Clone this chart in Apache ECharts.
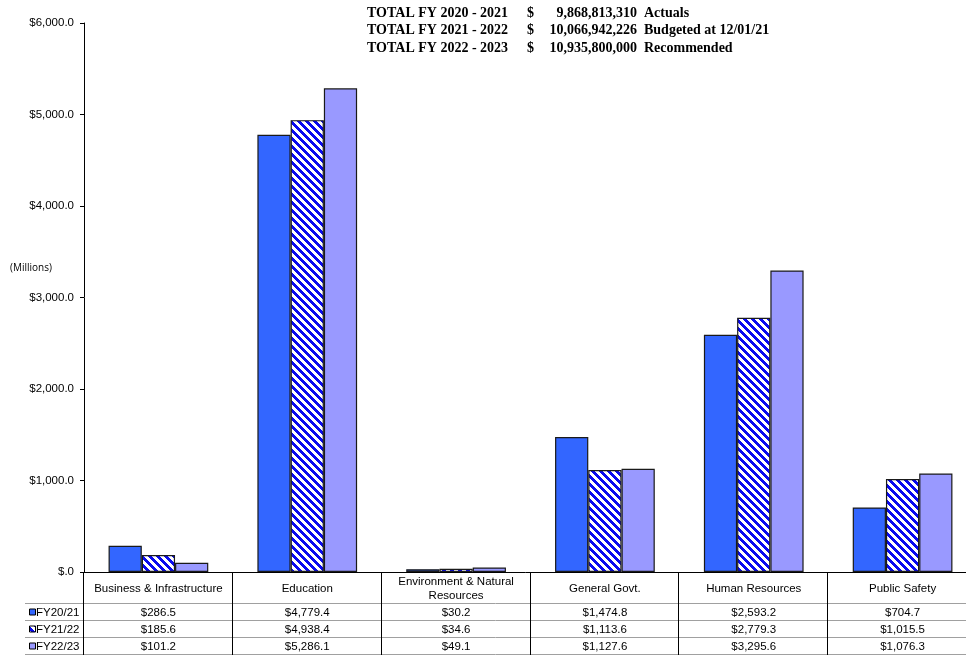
<!DOCTYPE html>
<html>
<head>
<meta charset="utf-8">
<script src="https://cdn.jsdelivr.net/npm/echarts@6/dist/echarts.min.js"></script>
<style>
html,body{margin:0;padding:0;background:#fff;overflow:hidden;}
#chart{width:966px;height:656px;}
</style>
</head>
<body>
<div id="chart"></div>
<script>
// ---- data ----
const categories = ['Business & Infrastructure', 'Education', 'Environment & Natural\nResources', 'General Govt.', 'Human Resources', 'Public Safety'];
const seriesNames = ['FY20/21', 'FY21/22', 'FY22/23'];
const fy2021 = [286.5, 4779.4, 30.2, 1474.8, 2593.2, 704.7];
const fy2122 = [185.6, 4938.4, 34.6, 1113.6, 2779.3, 1015.5];
const fy2223 = [101.2, 5286.1, 49.1, 1127.6, 3295.6, 1076.3];
const yTicks = [0, 1000, 2000, 3000, 4000, 5000, 6000];
const totalLabels = ['TOTAL FY 2020 - 2021', 'TOTAL FY 2021 - 2022', 'TOTAL FY 2022 - 2023'];
const totalValues = ['9,868,813,310', '10,066,942,226', '10,935,800,000'];
const totalNotes = ['Actuals', 'Budgeted at 12/01/21', 'Recommended'];

// ---- layout ----
const W = 966, H = 656;
const gridLeft = 84, gridTop = 23, gridRight = -11, gridBottom = 84;
const plotBottom = H - gridBottom; // 572
const catW = (W - gridLeft - gridRight) / categories.length;
const rowTops = [603, 620, 637, 654];
const legendLeft = 25;

function fmtMoney(v) {
  if (v === 0) return '$.0';
  return '$' + v.toLocaleString('en-US', {minimumFractionDigits: 1, maximumFractionDigits: 1});
}

// stripe pattern
function makeStripe() {
  const c = document.createElement('canvas');
  c.width = 8; c.height = 8;
  const ctx = c.getContext('2d');
  ctx.fillStyle = '#ffffff';
  ctx.fillRect(0, 0, 8, 8);
  ctx.fillStyle = '#0a0af0';
  for (let y = 0; y < 8; y++) {
    for (let x = 0; x < 8; x++) {
      if ((((x - y) % 8) + 8) % 8 < 4) ctx.fillRect(x, y, 1, 1);
    }
  }
  return c;
}
const stripe = makeStripe();
const fills = ['#3366ff', {image: stripe, repeat: 'repeat'}, '#9999ff'];
const seriesData = [fy2021, fy2122, fy2223];

const graphics = [];
const font = '11.5px "Liberation Sans", Arial, sans-serif';
// table lines
rowTops.forEach(function (y) {
  graphics.push({type: 'line', shape: {x1: legendLeft, y1: y + 0.5, x2: W, y2: y + 0.5}, style: {stroke: '#a0a0a0', lineWidth: 1}, z: 10});
});
for (let i = 0; i < categories.length; i++) {
  const x = Math.round(gridLeft + i * catW) - 0.5;
  graphics.push({type: 'line', shape: {x1: x, y1: plotBottom, x2: x, y2: rowTops[3] + 1}, style: {stroke: '#000', lineWidth: 1}, z: 11});
}
// header texts
categories.forEach(function (c, i) {
  graphics.push({type: 'text', x: gridLeft + (i + 0.5) * catW, y: (plotBottom + rowTops[0]) / 2 + 1,
    style: {text: c, font: font, fill: '#000', align: 'center', verticalAlign: 'middle', lineHeight: 14}, z: 12});
});
// rows
seriesData.forEach(function (arr, r) {
  const cy = (rowTops[r] + rowTops[r + 1]) / 2 + 1;
  arr.forEach(function (v, i) {
    graphics.push({type: 'text', x: gridLeft + (i + 0.5) * catW, y: cy,
      style: {text: fmtMoney(v), font: font, fill: '#000', align: 'center', verticalAlign: 'middle'}, z: 12});
  });
  graphics.push({type: 'rect', shape: {x: 29.5, y: cy - 3.5, width: 6, height: 6},
    style: {fill: r === 1 ? {image: stripe, repeat: 'repeat'} : fills[r], stroke: '#000', lineWidth: 1}, z: 12});
  graphics.push({type: 'text', x: 36, y: cy,
    style: {text: seriesNames[r], font: font, fill: '#000', align: 'left', verticalAlign: 'middle'}, z: 12});
});
// totals
const tfont = 'bold 14px "Liberation Serif", "Times New Roman", serif';
totalLabels.forEach(function (t, i) {
  const y = 13 + i * 17.5;
  graphics.push({type: 'text', x: 367, y: y, style: {text: t, font: tfont, fill: '#000', verticalAlign: 'middle'}});
  graphics.push({type: 'text', x: 527, y: y, style: {text: '$', font: tfont, fill: '#000', verticalAlign: 'middle'}});
  graphics.push({type: 'text', x: 637, y: y, style: {text: totalValues[i], font: tfont, fill: '#000', align: 'right', verticalAlign: 'middle'}});
  graphics.push({type: 'text', x: 644, y: y, style: {text: totalNotes[i], font: tfont, fill: '#000', verticalAlign: 'middle'}});
});
graphics.push({type: 'text', x: 10, y: 268, style: {text: '(Millions)', font: '10px "Open Sans", "Liberation Sans", Arial, sans-serif', fill: '#000', verticalAlign: 'middle'}});

const chart = echarts.init(document.getElementById('chart'), null, {renderer: 'canvas'});
chart.setOption({
  animation: false,
  backgroundColor: '#fff',
  grid: {left: gridLeft, right: gridRight, top: gridTop, bottom: gridBottom, containLabel: false, outerBoundsMode: 'none'},
  xAxis: {
    type: 'category', data: categories,
    axisLine: {show: true, lineStyle: {color: '#000', width: 1}},
    axisTick: {show: false}, axisLabel: {show: false}, splitLine: {show: false}
  },
  yAxis: {
    type: 'value', min: yTicks[0], max: yTicks[yTicks.length - 1], interval: 1000,
    axisLine: {show: true, lineStyle: {color: '#000', width: 1}},
    axisTick: {show: true, inside: false, length: 4, lineStyle: {color: '#000'}},
    axisLabel: {formatter: fmtMoney, color: '#000', fontSize: 11.5, fontFamily: '"Liberation Sans", Arial, sans-serif', margin: 10},
    splitLine: {show: false}
  },
  series: seriesData.map(function (arr, i) {
    return {
      name: seriesNames[i], type: 'bar', data: arr,
      barGap: '0%', barCategoryGap: '33%',
      itemStyle: {color: fills[i], borderColor: '#1a1a1a', borderWidth: 1.2}
    };
  }),
  graphic: graphics
});
</script>
</body>
</html>
